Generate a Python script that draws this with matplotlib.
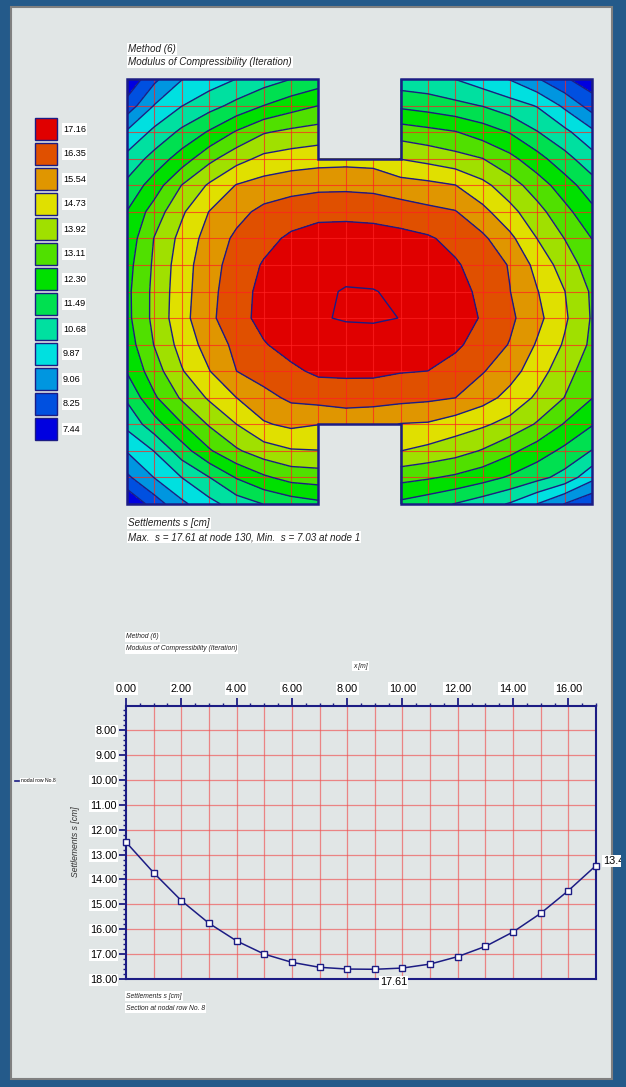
import matplotlib

matplotlib.use("Agg")
import matplotlib.pyplot as plt
import numpy as np
from matplotlib.patches import Polygon, Rectangle
from matplotlib.ticker import FormatStrFormatter, MultipleLocator
from matplotlib.transforms import Bbox, TransformedBbox

plt.rcParams["font.family"] = ["Liberation Sans", "DejaVu Sans"]

W, H = 626, 1087
NAVY = "#1c1c84"
nan = np.nan

# settlement section along nodal row No. 8 (y = 7 m), x = 0..17 m
SECTION_X = list(range(18))
SECTION_S = [12.50, 13.73, 14.85, 15.76, 16.47, 17.00, 17.33, 17.53, 17.60,
             17.61, 17.56, 17.40, 17.10, 16.69, 16.11, 15.36, 14.45, 13.44]

# settlements s [cm] at the nodes, x = 0..17 m, rows from y = 16 m down to y = 0 m
X_NODES = list(range(18))
Y_NODES = list(range(17))
FIELD_ROWS = [
    [7.15, 8.47, 9.43, 9.86, 10.28, 10.68, 11.08, 11.45, nan, nan, 10.60, 10.50, 10.26, 9.83, 9.42, 8.72, 7.95, 7.35],
    [8.17, 9.50, 10.25, 10.78, 11.32, 11.90, 12.35, 12.70, nan, nan, 11.73, 11.55, 11.30, 11.05, 10.62, 10.22, 9.30, 8.29],
    [9.58, 10.47, 11.26, 11.98, 12.79, 13.45, 13.70, 13.86, nan, nan, 13.14, 12.95, 12.75, 12.32, 11.85, 11.12, 10.48, 9.65],
    [10.52, 11.39, 12.27, 13.29, 14.03, 14.53, 14.70, 14.81, 14.85, 14.80, 14.30, 14.08, 13.81, 13.53, 12.93, 12.19, 11.36, 10.59],
    [11.28, 12.29, 13.53, 14.43, 15.17, 15.45, 15.65, 15.75, 15.77, 15.72, 15.49, 15.35, 15.15, 14.54, 13.87, 13.11, 12.28, 11.41],
    [11.92, 13.07, 14.20, 15.15, 15.70, 16.15, 16.35, 16.49, 16.50, 16.45, 16.35, 16.15, 15.99, 15.37, 14.57, 13.79, 12.95, 12.11],
    [12.20, 13.55, 14.57, 15.47, 16.09, 16.50, 16.90, 17.15, 17.20, 17.15, 17.00, 16.85, 16.52, 16.10, 15.33, 14.31, 13.50, 12.69],
    [12.42, 13.65, 14.75, 15.64, 16.28, 16.83, 17.15, 17.40, 17.45, 17.42, 17.30, 17.15, 16.85, 16.40, 15.89, 14.87, 13.95, 13.10],
    [12.52, 13.72, 14.80, 15.70, 16.42, 16.98, 17.30, 17.50, 17.59, 17.58, 17.50, 17.35, 17.10, 16.54, 15.96, 15.17, 14.34, 13.40],
    SECTION_S,
    [12.30, 13.55, 14.62, 15.47, 16.14, 16.70, 17.05, 17.30, 17.35, 17.38, 17.40, 17.25, 16.90, 16.42, 15.90, 15.05, 14.23, 13.35],
    [11.95, 13.15, 14.26, 15.10, 15.94, 16.32, 16.60, 16.90, 16.95, 16.95, 16.80, 16.75, 16.44, 16.00, 15.44, 14.71, 13.80, 13.10],
    [11.21, 12.59, 13.62, 14.43, 15.13, 15.68, 16.10, 16.25, 16.23, 16.20, 16.19, 16.10, 15.95, 15.44, 14.88, 14.18, 13.50, 12.73],
    [10.49, 11.55, 12.65, 13.59, 14.32, 15.05, 15.30, 15.15, 15.50, 15.45, 15.10, 15.05, 14.72, 14.45, 14.05, 13.43, 12.64, 11.95],
    [9.52, 10.30, 11.50, 12.60, 13.40, 13.95, 14.25, 14.30, nan, nan, 14.33, 14.10, 13.85, 13.45, 12.90, 12.30, 11.70, 11.05],
    [8.49, 9.49, 10.28, 11.06, 11.95, 12.57, 13.00, 13.10, nan, nan, 12.97, 12.80, 12.56, 12.22, 11.79, 11.33, 10.80, 9.70],
    [7.03, 8.22, 9.29, 10.01, 10.65, 11.10, 11.45, 11.70, nan, nan, 11.70, 11.40, 11.05, 10.64, 10.20, 9.45, 8.62, 7.95],
]

# outline of the slab with the two recesses
SHAPE_XY = [(0, 0), (7, 0), (7, 3), (10, 3), (10, 0), (17, 0), (17, 16),
            (10, 16), (10, 13), (7, 13), (7, 16), (0, 16)]

LEGEND_VALUES = [17.16, 16.35, 15.54, 14.73, 13.92, 13.11, 12.30,
                 11.49, 10.68, 9.87, 9.06, 8.25, 7.44]
LEGEND_COLORS = ["#e00000", "#e05000", "#e09600", "#e0e000", "#a0e000",
                 "#50e000", "#00e000", "#00e050", "#00e0a0", "#00e0e0",
                 "#0096e0", "#0050e0", "#0000e0"]


def px_box(x0, y0, x1, y1):
    """Pixel box (top-left origin) -> figure rect."""
    return [x0 / W, 1 - y1 / H, (x1 - x0) / W, (y1 - y0) / H]


fig = plt.figure(figsize=(W / 100, H / 100), dpi=100, facecolor="#245a8a")

# background panel and free texts in pixel coordinates
bg = fig.add_axes([0, 0, 1, 1], zorder=-5)
bg.set_xlim(0, W)
bg.set_ylim(H, 0)
bg.axis("off")
bg.add_patch(Rectangle((11, 7), 601, 1072, facecolor="#e1e6e6",
                       edgecolor="#808080", lw=1.5))

white = dict(facecolor="white", edgecolor="none", pad=0.8)


def note(x, y, s, size, **kw):
    bg.text(x, y, s, fontsize=size, ha="left", va="center", style="italic",
            color="#202020", bbox=white, **kw)


note(128, 49, "Method (6)", 7.1)
note(128, 62, "Modulus of Compressibility (Iteration)", 7.1)
note(128, 523, "Settlements s [cm]", 7.1)
note(128, 537, "Max.  s = 17.61 at node 130, Min.  s = 7.03 at node 1", 7.1)

note(126, 637, "Method (6)", 4.85)
note(126, 649, "Modulus of Compressibility (Iteration)", 4.85)
note(353, 666, "x [m]", 4.85)
note(126, 996, "Settlements s [cm]", 4.85)
note(126, 1008, "Section at nodal row No. 8", 4.85)
bg.text(76, 842, "Settlements s [cm]", fontsize=6.2, rotation=90,
        ha="center", va="center", style="italic", color="#303030")

# colour legend of the contour plot
for i, (val, col) in enumerate(zip(LEGEND_VALUES, LEGEND_COLORS)):
    top = 118 + 25 * i
    bg.add_patch(Rectangle((35, top), 22, 22, facecolor=col,
                           edgecolor=NAVY, lw=1.0))
    bg.text(63, top + 11, f"{val:.2f}", fontsize=6.6, ha="left", va="center",
            bbox=white)

# legend of the section chart
bg.plot([15, 19], [781, 781], color=NAVY, lw=1.2)
bg.text(21, 781, "nodal row No.8", fontsize=3.7, ha="left", va="center",
        bbox=dict(facecolor="white", edgecolor="none", pad=0.5))

# ---- contour plot ----
ax = fig.add_axes(px_box(127, 79, 592, 504))
ax.set_facecolor("none")
ax.axis("off")
xx, yy = np.meshgrid(X_NODES, Y_NODES)
zz = np.ma.masked_invalid(np.array(FIELD_ROWS, dtype=float)[::-1])

bounds = [v + 0.405 for v in sorted(LEGEND_VALUES)]
fill_levels = [6.5] + bounds[:-1] + [18.5]
ax.contourf(xx, yy, zz, levels=fill_levels, colors=LEGEND_COLORS[::-1],
            corner_mask=False, zorder=1)

shape = Polygon(SHAPE_XY, closed=True, facecolor="none", edgecolor=NAVY,
                lw=1.8, zorder=5, clip_on=False)
ax.add_patch(shape)
for gx in range(1, 17):
    (ln,) = ax.plot([gx, gx], [0, 16], color="#ff2020", lw=0.8, alpha=0.7,
                    zorder=2)
    ln.set_clip_path(shape)
for gy in range(1, 16):
    (ln,) = ax.plot([0, 17], [gy, gy], color="#ff2020", lw=0.8, alpha=0.7,
                    zorder=2)
    ln.set_clip_path(shape)
ax.contour(xx, yy, zz, levels=bounds, colors=NAVY, linewidths=1.0,
           corner_mask=False, zorder=3)
ax.set_xlim(0, 17)
ax.set_ylim(0, 16)

# ---- section plot ----
ax2 = fig.add_axes(px_box(126, 706, 596, 979))
ax2.set_facecolor("none")
for gx in range(1, 17):
    ax2.axvline(gx, color="#f05050", lw=0.9, alpha=0.65, zorder=1)
for gy in range(8, 18):
    ax2.axhline(gy, color="#f05050", lw=0.9, alpha=0.65, zorder=1)
ax2.plot(SECTION_X, SECTION_S, color=NAVY, lw=1.1, marker="s", ms=4.3,
         mfc="white", mec=NAVY, mew=1.0, zorder=3, clip_on=False)
ax2.set_xlim(0, 17)
ax2.set_ylim(18.0, 7.03)

ax2.xaxis.tick_top()
ax2.xaxis.set_major_locator(MultipleLocator(2))
ax2.xaxis.set_minor_locator(MultipleLocator(0.5))
ax2.yaxis.set_major_locator(MultipleLocator(1))
ax2.yaxis.set_minor_locator(MultipleLocator(0.2))
ax2.xaxis.set_major_formatter(FormatStrFormatter("%.2f"))
ax2.yaxis.set_major_formatter(FormatStrFormatter("%.2f"))
ax2.tick_params(axis="x", which="major", direction="out", length=6,
                width=1.3, color=NAVY, labelsize=7.8, pad=3)
ax2.tick_params(axis="x", which="minor", direction="out", length=2.5,
                width=1.0, color=NAVY)
ax2.tick_params(axis="y", which="major", direction="out", length=5,
                width=1.3, color=NAVY, labelsize=7.8, pad=1.5)
ax2.tick_params(axis="y", which="minor", direction="out", length=2,
                width=1.0, color=NAVY)
for spine in ax2.spines.values():
    spine.set_color(NAVY)
    spine.set_linewidth(1.5)
for lbl in ax2.get_xticklabels() + ax2.get_yticklabels():
    lbl.set_bbox(dict(facecolor="white", edgecolor="none", pad=0.8))

i_max = int(np.argmax(SECTION_S))
ax2.annotate(f"{SECTION_S[i_max]:.2f}", xy=(SECTION_X[i_max], SECTION_S[i_max]),
             xytext=(13.5, -9.5), textcoords="offset points", ha="center",
             va="center", fontsize=7.8, bbox=white, annotation_clip=False)
end_lbl = ax2.annotate(f"{SECTION_S[-1]:.2f}", xy=(SECTION_X[-1], SECTION_S[-1]),
                       xytext=(5, 3.5), textcoords="offset points", ha="left",
                       va="center", fontsize=7.8, bbox=white,
                       annotation_clip=False)
end_lbl.set_clip_box(TransformedBbox(Bbox([[0, 0], [621 / W, 1]]),
                                     fig.transFigure))
end_lbl.set_clip_on(True)

fig.savefig("out.png", dpi=100, facecolor=fig.get_facecolor())
